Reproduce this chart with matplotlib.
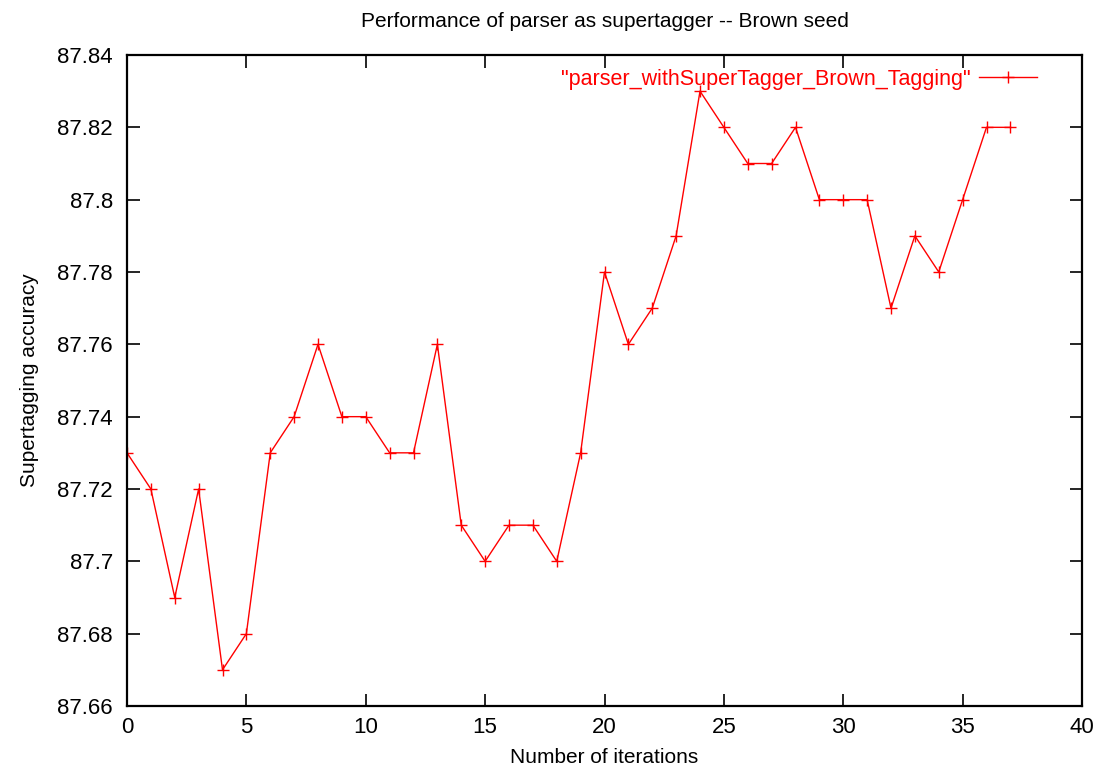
import matplotlib
matplotlib.use('Agg')
import matplotlib.pyplot as plt
from matplotlib.ticker import FuncFormatter, MultipleLocator

plt.rcParams['font.family'] = ['Liberation Sans', 'DejaVu Sans']

# data
iterations = list(range(38))
accuracy = [87.73, 87.72, 87.69, 87.72, 87.67, 87.68, 87.73, 87.74, 87.76, 87.74,
            87.74, 87.73, 87.73, 87.76, 87.71, 87.70, 87.71, 87.71, 87.70, 87.73,
            87.78, 87.76, 87.77, 87.79, 87.83, 87.82, 87.81, 87.81, 87.82, 87.80,
            87.80, 87.80, 87.77, 87.79, 87.78, 87.80, 87.82, 87.82]
series_label = '"parser_withSuperTagger_Brown_Tagging"'

fig = plt.figure(figsize=(10.99, 7.70), dpi=100)
ax = fig.add_axes([127 / 1099, 1 - 706 / 770, (1082 - 127) / 1099, (706 - 55) / 770])

ax.plot(iterations, accuracy, color='#ff0000', lw=1, marker='+', ms=9, mew=1,
        label=series_label)

ax.set_xlim(0, 40)
ax.set_ylim(87.66, 87.84)
ax.xaxis.set_major_locator(MultipleLocator(5))
ax.yaxis.set_major_locator(MultipleLocator(0.02))
ax.yaxis.set_major_formatter(FuncFormatter(lambda v, p: '%g' % round(v, 2)))
ax.tick_params(direction='in', length=9, width=1.2, top=True, right=True,
               labelsize=16, pad=8)
ax.tick_params(axis='y', pad=10)
for s in ax.spines.values():
    s.set_linewidth(1.6)

ax.set_title('Performance of parser as supertagger -- Brown seed', fontsize=15, pad=20)
ax.set_xlabel('Number of iterations', fontsize=15, labelpad=7)
ax.set_ylabel('Supertagging accuracy', fontsize=15, labelpad=13)

leg = ax.legend(loc='upper right', frameon=False, fontsize=15.5, markerfirst=False,
                handlelength=2.7, handletextpad=0.4, borderaxespad=0.25,
                bbox_to_anchor=(0.968, 1.0))
for t in leg.get_texts():
    t.set_color('#ff0000')

fig.savefig('out.png', dpi=100)
